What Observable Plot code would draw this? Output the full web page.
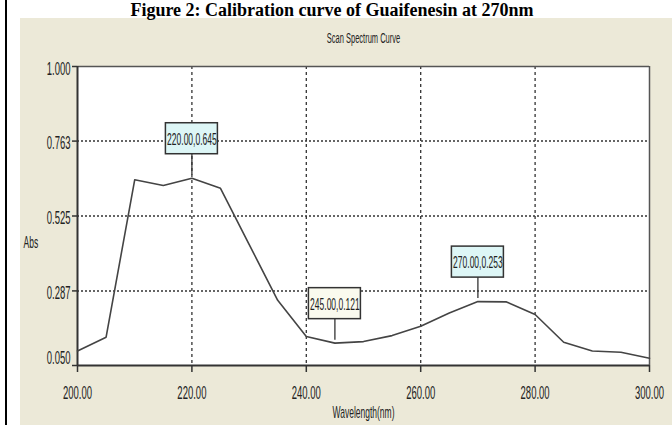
<!DOCTYPE html>
<html>
<head>
<meta charset="utf-8">
<script src="https://cdn.jsdelivr.net/npm/d3@7"></script>
<script src="https://cdn.jsdelivr.net/npm/@observablehq/plot@0.6"></script>
<style>
  html, body { margin: 0; padding: 0; background: #ffffff; }
  #page { position: relative; width: 672px; height: 425px; overflow: hidden; background: #ffffff; }
  #border { position: absolute; left: 5px; top: 0; width: 2px; height: 425px; background: #000; }
  #title { position: absolute; left: 0; top: 0; width: 664px; text-align: center; white-space: nowrap;
           font: bold 18px/21px "Liberation Serif", "Times New Roman", serif; color: #000; z-index: 2; }
  #chart { position: absolute; left: 20px; top: 18px; z-index: 1; }
</style>
</head>
<body>
<div id="page">
  <div id="border"></div>
  <div id="chart"></div>
  <div id="title">Figure 2: Calibration curve of Guaifenesin at 270nm</div>
</div>
<script>
// ---- data ----
const wavelengths = [200, 205, 210, 215, 220, 225, 230, 235, 240, 245, 250, 255, 260, 265, 270, 275, 280, 285, 290, 295, 300];
const absorbance  = [0.096, 0.140, 0.640, 0.622, 0.645, 0.613, 0.435, 0.257, 0.142, 0.121, 0.126, 0.145, 0.175, 0.217, 0.253, 0.252, 0.212, 0.124, 0.096, 0.092, 0.073];
const xTicks = [200, 220, 240, 260, 280, 300];
const yTicks = [0.050, 0.287, 0.525, 0.763, 1.000];
const xGrid = [220, 240, 260, 280];
const yGrid = [0.287, 0.525, 0.763];
const annX = [220, 245, 270];
const annY = [0.645, 0.121, 0.253];
const annLabel = ["220.00,0.645", "245.00,0.121", "270.00,0.253"];
const annFill = ["#DDF6F6", "#FAFAEE", "#DDF6F6"];
const chartTitle = "Scan Spectrum Curve";
const xLabel = "Wavelength(nm)";
const yLabel = "Abs";

// ---- build ----
const spectrum = wavelengths.map((w, i) => ({w, a: absorbance[i]}));
const notes = annX.map((x, i) => ({x, y: annY[i], label: annLabel[i], fill: annFill[i]}));

const W = 652, H = 407, mT = 48, mB = 60, mL = 57, mR = 23;
const yDom = [0.05, 1.0];
const pxToY = px => px * (yDom[1] - yDom[0]) / (H - mT - mB);
const ink = "#222";
const K = 0.5; // horizontal condensation of chart text

const plot = Plot.plot({
  width: W, height: H,
  marginTop: mT, marginBottom: mB, marginLeft: mL, marginRight: mR,
  style: {background: "#ECE9D8", fontFamily: "'Liberation Sans', Arial, sans-serif", overflow: "visible"},
  x: {domain: [200, 300], axis: null},
  y: {domain: yDom, axis: null},
  marks: [
    Plot.frame({fill: "white", stroke: "none"}),
    Plot.ruleY(yGrid, {stroke: "#333", strokeWidth: 1.5, strokeDasharray: "2,2"}),
    Plot.ruleX(xGrid, {stroke: "#333", strokeWidth: 1.3, strokeDasharray: "3,3"}),
    Plot.ruleY([1.0], {stroke: "#555", strokeWidth: 1.5}),
    Plot.ruleX([300], {stroke: "#555", strokeWidth: 1.5}),
    Plot.axisX({ticks: xTicks, tickSize: 7, tickFormat: () => "", label: null, stroke: "#333", strokeWidth: 1.5}),
    Plot.axisY({ticks: yTicks, tickSize: 5, tickFormat: () => "", label: null, stroke: "#333", strokeWidth: 1.5}),
    Plot.ruleY([0.05], {stroke: "#333", strokeWidth: 2}),
    Plot.ruleX([200], {stroke: "#333", strokeWidth: 2}),
    Plot.line(spectrum, {x: "w", y: "a", stroke: "#444", strokeWidth: 1.6}),
    // annotation leaders and boxes
    Plot.ruleX(notes, {x: "x", y1: d => d.y + pxToY(3), y2: d => d.y + pxToY(24), stroke: "#333", strokeWidth: 1.3}),
    Plot.rect(notes, {x1: "x", x2: "x", y1: "y", y2: "y", insetLeft: -26, insetRight: -26, insetTop: -55, insetBottom: 24,
                      fill: "fill", stroke: "#333", strokeWidth: 1.5}),
    Plot.text(notes, {x: "x", y: "y", dy: -39, text: "label", fontSize: 17, fill: ink, lineAnchor: "middle"}),
    // tick labels
    Plot.text(xTicks, {x: d => d, frameAnchor: "bottom", dy: 27, text: d => d.toFixed(2), fontSize: 19, fill: ink, lineAnchor: "middle"}),
    Plot.text(yTicks.slice(1), {y: d => d, frameAnchor: "left", dx: -7, dy: 2, textAnchor: "end", text: d => d.toFixed(3), fontSize: 19, fill: ink, lineAnchor: "middle"}),
    Plot.text(yTicks.slice(0, 1), {y: d => d, frameAnchor: "left", dx: -7, dy: -8, textAnchor: "end", text: d => d.toFixed(3), fontSize: 19, fill: ink, lineAnchor: "middle"}),
    // titles
    Plot.text([chartTitle], {frameAnchor: "top", dy: -28, text: d => d, fontSize: 15, fill: ink, lineAnchor: "middle"}),
    Plot.text([xLabel], {frameAnchor: "bottom", dy: 47, text: d => d, fontSize: 17, fill: ink, lineAnchor: "middle"}),
    Plot.text([yLabel], {frameAnchor: "left", dx: -54, dy: 27, textAnchor: "start", text: d => d, fontSize: 17, fill: ink, lineAnchor: "middle"})
  ]
});

// condense all chart text horizontally around its anchor
plot.querySelectorAll("text").forEach(t => {
  const tr = t.getAttribute("transform") || "";
  t.setAttribute("transform", (tr + ` scale(${K},1)`).trim());
});

document.getElementById("chart").appendChild(plot);
</script>
</body>
</html>
